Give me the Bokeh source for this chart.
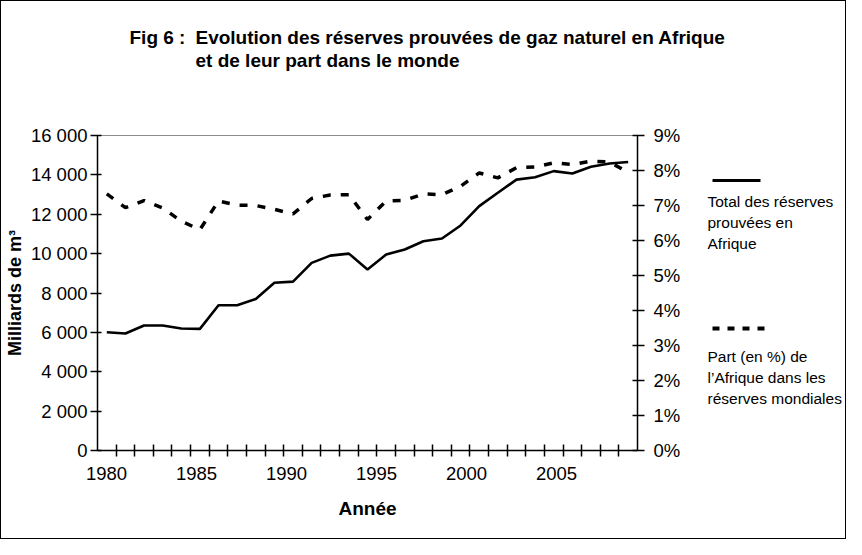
from bokeh.plotting import figure
from bokeh.layouts import column, row
from bokeh.models import (Range1d, LinearAxis, FixedTicker, CustomJSTickFormatter,
                          ColumnDataSource)
from bokeh.core.properties import value
from bokeh.embed import file_html
from bokeh.resources import INLINE

# ---- data ----
years = list(range(1980, 2009))
reserves = [6010, 5940, 6350, 6350, 6200, 6180, 7380, 7380, 7700, 8520,
            8580, 9530, 9900, 10000, 9190, 9950, 10210, 10630, 10770, 11430,
            12410, 13090, 13760, 13880, 14190, 14070, 14410, 14580, 14650]
share_pct = [7.33, 6.94, 7.14, 6.93, 6.55, 6.31, 7.13, 7.01, 7.0, 6.89,
             6.76, 7.2, 7.30, 7.31, 6.6, 7.13, 7.15, 7.33, 7.31, 7.55,
             7.93, 7.79, 8.08, 8.10, 8.22, 8.17, 8.27, 8.24, 7.95]
x_tick_labels = ["1980", "1985", "1990", "1995", "2000", "2005"]
left_ticks = [0, 2000, 4000, 6000, 8000, 10000, 12000, 14000, 16000]
right_ticks = [0, 1, 2, 3, 4, 5, 6, 7, 8, 9]

title1a = "Fig 6 :"
title1b = "Evolution des réserves prouvées de gaz naturel en Afrique"
title2 = "et de leur part dans le monde"
legend1 = "Total des réserves\nprouvées en\nAfrique"
legend2 = "Part (en %) de\nl\u2019Afrique dans les\nréserves mondiales"

FONT = "Liberation Sans"

# ---- layout (page pixels) ----
OX, OY = 9, 9                         # content origin on the page (8px margin + 1px border)
W_ALL, H_ALL = 844, 537
T_H = 100                             # height of the title strip
M_W = 700                             # width of the chart part
L_W = W_ALL - M_W                     # width of the legend part
B_H = H_ALL - T_H
FL, FR, FT, FB = 101, 645, 143, 458   # chart frame edges on the page
MB_TOP = FT - OY - T_H
MB_BOTTOM = B_H - (FB - OY - T_H)

# ---- title strip (coordinates = page pixels) ----
tf = figure(width=W_ALL, height=T_H, output_backend="svg", toolbar_location=None,
            x_range=Range1d(OX, OX + W_ALL), y_range=Range1d(OY + T_H, OY),
            x_axis_type=None, y_axis_type=None, min_border=0)
tf.grid.visible = False
tf.outline_line_color = None
tf.text(x=[137], y=[45], text=[title1a], text_font=value(FONT), text_font_size=value("19px"),
        text_font_style="bold", text_baseline="middle", text_color="black")
tf.text(x=[203, 203], y=[45, 68], text=[title1b, title2], text_font=value(FONT),
        text_font_size=value("19px"), text_font_style="bold", text_baseline="middle",
        text_color="black")

# ---- chart ----
X0, X1 = years[0] - 0.5, years[-1] + 0.5
p = figure(width=M_W, height=B_H, output_backend="svg", toolbar_location=None,
           x_range=Range1d(X0, X1), y_range=Range1d(0, 16000),
           x_axis_type=None, y_axis_type=None,
           min_border_left=FL - OX, min_border_right=M_W - (FR - OX),
           min_border_top=MB_TOP, min_border_bottom=MB_BOTTOM)
p.grid.visible = False
p.outline_line_color = "#8c8c8c"
p.outline_line_width = 1
p.extra_y_ranges = {"pct": Range1d(0, 9)}

# x axis: labels follow a 30-slot layout, tick marks sit at the category boundaries
n_slots = len(years) + 1
label_pos = [X0 + (5 * k + 0.5) * (X1 - X0) / n_slots for k in range(len(x_tick_labels))]
boundaries = [y + 0.5 for y in years[:-1]]
xaxis = LinearAxis(ticker=FixedTicker(ticks=label_pos, minor_ticks=boundaries),
                   formatter=CustomJSTickFormatter(args=dict(labels=x_tick_labels),
                                                   code="return labels[index]"))
xaxis.major_tick_in = 0
xaxis.major_tick_out = 0
xaxis.minor_tick_in = 6
xaxis.minor_tick_out = 6
xaxis.minor_tick_line_color = "black"
xaxis.minor_tick_line_width = 1.5
xaxis.axis_line_color = "black"
xaxis.axis_line_width = 1.5
xaxis.major_label_text_font = FONT
xaxis.major_label_text_font_size = "18.5px"
xaxis.major_label_text_color = "black"
xaxis.major_label_standoff = 10
xaxis.axis_label = "Année"
xaxis.axis_label_text_font = FONT
xaxis.axis_label_text_font_size = "19px"
xaxis.axis_label_text_font_style = "bold"
xaxis.axis_label_text_color = "black"
xaxis.axis_label_standoff = 15
p.add_layout(xaxis, "below")

yaxis = LinearAxis(ticker=FixedTicker(ticks=left_ticks),
                   formatter=CustomJSTickFormatter(
                       code="return tick.toFixed(0).replace(/\\B(?=(\\d{3})+(?!\\d))/g, ' ')"))
yaxis.major_tick_in = 4
yaxis.major_tick_out = 7
yaxis.minor_tick_line_color = None
yaxis.major_tick_line_width = 1.5
yaxis.axis_line_width = 1.5
yaxis.major_label_text_font = FONT
yaxis.major_label_text_font_size = "18.5px"
yaxis.major_label_text_color = "black"
yaxis.major_label_standoff = 3
yaxis.axis_label = "Milliards de m³"
yaxis.axis_label_text_font = FONT
yaxis.axis_label_text_font_size = "18px"
yaxis.axis_label_text_font_style = "bold"
yaxis.axis_label_text_color = "black"
yaxis.axis_label_standoff = 3
p.add_layout(yaxis, "left")

raxis = LinearAxis(y_range_name="pct", ticker=FixedTicker(ticks=right_ticks),
                   formatter=CustomJSTickFormatter(code="return tick.toFixed(0) + '%'"))
raxis.major_tick_in = 5
raxis.major_tick_out = 7
raxis.minor_tick_line_color = None
raxis.major_tick_line_width = 1.5
raxis.axis_line_width = 1.5
raxis.major_label_text_font = FONT
raxis.major_label_text_font_size = "18.5px"
raxis.major_label_text_color = "black"
raxis.major_label_standoff = 9
p.add_layout(raxis, "right")

src = ColumnDataSource(dict(year=years, reserves=reserves, share=share_pct))
p.line("year", "reserves", source=src, line_color="black", line_width=2.6)
p.line("year", "share", source=src, y_range_name="pct", line_color="black",
       line_width=3.5, line_dash="8 10")

# ---- legend strip (frame aligned with the chart frame; coordinates = page pixels) ----
lf = figure(width=L_W, height=B_H, output_backend="svg", toolbar_location=None,
            x_range=Range1d(OX + M_W, OX + W_ALL), y_range=Range1d(FB, FT),
            x_axis_type=None, y_axis_type=None,
            min_border_left=0, min_border_right=0,
            min_border_top=MB_TOP, min_border_bottom=MB_BOTTOM)
lf.grid.visible = False
lf.outline_line_color = None
lf.line(x=[720, 768], y=[188, 188], line_color="black", line_width=3)
lf.text(x=[715], y=[200], text=[legend1], text_font=value(FONT), text_font_size=value("15.5px"),
        text_baseline="top", text_color="black", text_line_height=1.25)
lf.line(x=[720, 773], y=[336, 336], line_color="black", line_width=4, line_dash="7 8")
lf.text(x=[715], y=[355], text=[legend2], text_font=value(FONT), text_font_size=value("15.5px"),
        text_baseline="top", text_color="black", text_line_height=1.25)

layout = column(tf, row(p, lf), styles={"border": "1px solid black"})
open("out.html", "w").write(file_html(layout, INLINE))
